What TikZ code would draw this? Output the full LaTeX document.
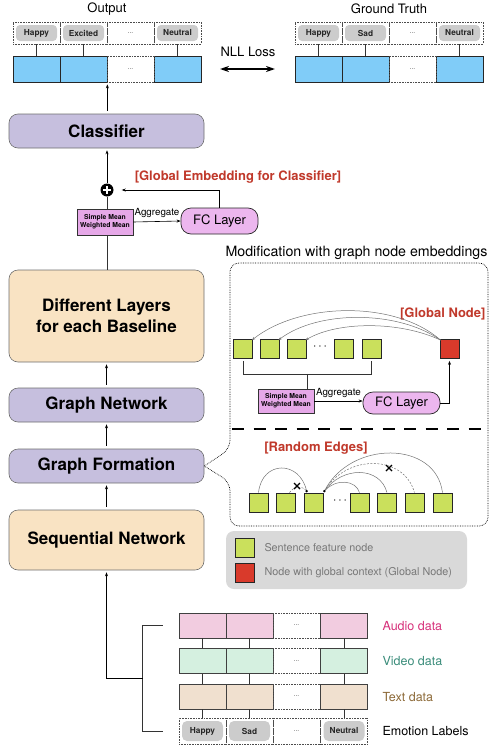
\documentclass[tikz,border=0pt]{standalone}
\usepackage{fontspec}
\setmainfont{TeX Gyre Heros}
\usetikzlibrary{arrows.meta,calc}
\definecolor{cblue}{RGB}{128,204,248}
\definecolor{clav}{RGB}{198,191,222}
\definecolor{corange}{RGB}{249,227,195}
\definecolor{cpink}{RGB}{236,182,238}
\definecolor{cpinkd}{RGB}{230,168,232}
\definecolor{cgreen}{RGB}{202,224,92}
\definecolor{cred}{RGB}{217,58,43}
\definecolor{credtxt}{RGB}{192,57,43}
\definecolor{clabgray}{RGB}{204,204,204}
\definecolor{clegend}{RGB}{217,217,217}
\definecolor{clegtxt}{RGB}{120,120,120}
\definecolor{caudio}{RGB}{242,204,224}
\definecolor{cvideo}{RGB}{213,240,224}
\definecolor{ctext}{RGB}{240,224,207}
\definecolor{caudiot}{RGB}{214,48,122}
\definecolor{cvideot}{RGB}{58,140,122}
\definecolor{ctextt}{RGB}{140,105,55}
\definecolor{cborder}{RGB}{110,110,110}
\tikzset{
  f13/.style={font=\fontsize{13}{15}\selectfont},
  f12/.style={font=\fontsize{12.5}{14}\selectfont},
  arr/.style={-{Stealth[length=4pt,width=3pt]}, line width=0.6pt},
  conn/.style={line width=0.6pt, draw=black!80},
  dcell/.style={draw=black!70, densely dotted, line width=0.6, minimum width=47, minimum height=22, inner sep=0, font=\fontsize{7}{8}\selectfont, text=black!60},
  lab/.style={fill=clabgray, rounded corners=4, minimum width=41, minimum height=16, inner sep=0, font=\fontsize{8.3}{9}\selectfont\bfseries, text=black!85},
  bcell/.style={draw=black!85, line width=0.7, fill=cblue, minimum width=47, minimum height=26, inner sep=0},
  dcellb/.style={dcell, minimum height=26},
  bigbox/.style={draw=cborder, line width=0.6, rounded corners=9, minimum width=195, inner sep=0, align=center, font=\fontsize{17}{21}\selectfont\bfseries},
  lavbox/.style={bigbox, fill=clav, minimum height=34},
  orbox/.style={bigbox, fill=corange},
  fcbox/.style={draw=black!85, line width=0.7, fill=cpink, rounded corners=10, minimum width=77, minimum height=26, inner sep=0, font=\fontsize{13}{15}\selectfont},
  smbox/.style={draw=black!80, line width=0.7, fill=cpinkd, minimum width=56, minimum height=26, inner sep=0, align=center, font=\fontsize{6.8}{8}\selectfont\bfseries},
  redlab/.style={text=credtxt, font=\fontsize{13}{15}\selectfont\bfseries},
  gsq/.style={draw=black!85, line width=0.7, fill=cgreen, minimum size=19, inner sep=0},
  rsq/.style={draw=black!85, line width=0.7, fill=cred, minimum size=19, inner sep=0},
  edge/.style={draw=black!55, line width=0.5},
  dedge/.style={edge, dashed, dash pattern=on 2pt off 1.5pt},
  xmark/.style={line width=1.3pt, black},
  acell/.style={draw=black!75, line width=0.7, minimum width=47, minimum height=25, inner sep=0},
  aggr/.style={font=\fontsize{9.8}{11}\selectfont},
}
\begin{document}
\begin{tikzpicture}[x=1pt,y=-1pt]
\useasboundingbox (0,0) rectangle (489,747);

% ---------- Output ----------
\node[f13] (outlab) at (107,9) {Output};
\foreach \i/\x/\t in {1/36.5/Happy,2/83.5/Excited,4/177.5/Neutral}{
  \node[dcell] (oc\i) at (\x,33) {};
  \node[lab] (ol\i) at (oc\i) {\t};
  \node[bcell] (ob\i) at (\x,69) {};
  \draw[conn] (oc\i.south) -- (ob\i.north);
}
\node[dcell] (oc3) at (130.5,33) {...};
\node[dcellb] (ob3) at (130.5,69) {...};

% ---------- Ground truth ----------
\node[f13] (gtlab) at (389,9) {Ground Truth};
\foreach \i/\x/\t in {1/318.5/Happy,2/365.5/Sad,4/459.5/Neutral}{
  \node[dcell] (gc\i) at (\x,33) {};
  \node[lab] (gl\i) at (gc\i) {\t};
  \node[bcell] (gb\i) at (\x,69) {};
  \draw[conn] (gc\i.south) -- (gb\i.north);
}
\node[dcell] (gc3) at (412.5,33) {...};
\node[dcellb] (gb3) at (412.5,69) {...};

% NLL loss
\node[f13] (nll) at (248,52) {NLL Loss};
\coordinate (nllL) at (220,69);
\coordinate (nllR) at (275,69);
\draw[{Stealth[length=9pt,width=6pt]}-{Stealth[length=9pt,width=6pt]}, line width=1.6pt] (nllL) -- (nllR);

% ---------- Left column ----------
\node[lavbox] (cls) at (106.5,131) {Classifier};
\draw[arr, shorten >=2pt] (cls.north -| ob2.south east) ++(0,-3) -- (ob2.south east);

\node[circle, fill=black, minimum size=13, inner sep=0] (plus) at (107,190) {};
\draw[white, line width=1.6pt] ($(plus.center)+(-3.8,0)$) -- ($(plus.center)+(3.8,0)$);
\draw[white, line width=1.6pt] ($(plus.center)+(0,-3.8)$) -- ($(plus.center)+(0,3.8)$);
\draw[arr, shorten >=2pt] (plus.north) -- (plus.north |- cls.south);

\node[redlab] (gelab) at (238,177) {[Global Embedding for Classifier]};

\node[smbox] (sm1) at (105,222) {Simple Mean\\Weighted Mean};
\node[fcbox] (fc1) at (219.5,221) {FC Layer};
\draw[arr] (sm1.east) -- (fc1.west) node[midway, above=0pt, aggr] {Aggregate};
\draw[arr, shorten >=8pt] (fc1.north) |- (plus.east);

\node[orbox, minimum height=92] (dl) at (106.5,316) {Different Layers\\for each Baseline};
\node[lavbox] (gn) at (106.5,405) {Graph Network};
\node[lavbox] (gf) at (106.5,466) {Graph Formation};
\node[orbox, minimum height=60] (sq) at (106.5,540) {Sequential Network};

\draw[conn] (plus.south) -- (plus.south |- sm1.north);
\draw[conn] (plus.south |- sm1.south) -- (plus.south |- dl.north);
\draw[arr, shorten <=3pt, shorten >=2pt] (gn.north) -- (dl.south);
\draw[arr, shorten <=3pt, shorten >=2pt] (gf.north) -- (gn.north |- gn.south);
\draw[arr, shorten <=3pt, shorten >=2pt] (sq.north) -- (gf.south);

% ---------- Data rows ----------
\foreach \r/\y/\c in {a/625.5/caudio, v/661/cvideo, t/696.5/ctext}{
  \node[acell, fill=\c] (\r1) at (202.5,\y) {};
  \node[acell, fill=\c] (\r2) at (249.5,\y) {};
  \node[dcell, minimum height=25] (\r3) at (296.5,\y) {...};
  \node[acell, fill=\c] (\r4) at (344,\y) {};
}
\node[dcell, minimum height=26] (e1) at (202.5,731) {};
\node[dcell, minimum height=26] (e2) at (249.5,731) {};
\node[dcell, minimum height=26] (e3) at (296.5,731) {...};
\node[dcell, minimum height=26] (e4) at (344,731) {};
\node[lab, minimum height=20, rounded corners=5] (el1) at (e1) {Happy};
\node[lab, minimum height=20, rounded corners=5] (el2) at (e2) {Sad};
\node[lab, minimum height=20, rounded corners=5] (el4) at (e4) {Neutral};
\foreach \i in {1,2,4}{
  \draw[conn] (a\i.south) -- (v\i.north);
  \draw[conn] (v\i.south) -- (t\i.north);
  \draw[conn] (t\i.south) -- (e\i.north);
}
\node[f12, anchor=west, text=caudiot] (alab) at (379,626) {Audio data};
\node[f12, anchor=west, text=cvideot] (vlab) at (379,661) {Video data};
\node[f12, anchor=west, text=ctextt] (tlab) at (379,697) {Text data};
\node[f12, anchor=west] (elab) at (379,731) {Emotion Labels};

% bracket
\draw[conn] ($(a1.west)+(-16,0)$) -- ++(-20,0) |- ($(e1.west)+(-16,0)$);
\coordinate (brkmid) at ($(a1.west)+(-36,52.5)$);
\draw[arr, shorten >=2pt] (brkmid) -| (sq.south);

% ---------- Right panel ----------
\node[anchor=west, font=\fontsize{14.2}{16}\selectfont] (modt) at (222,253) {Modification with graph node embeddings};
\draw[densely dotted, line width=0.7, rounded corners=9] (gf.east) -- (230,449) -- (230,263) -- (488,263) -- (488,526) -- (230,526) -- (230,482) [sharp corners] -- (gf.east);

% top graph
\node[gsq] (g1) at (243,349) {};
\node[gsq] (g2) at (269.5,349) {};
\node[gsq] (g3) at (296.5,349) {};
\node[font=\fontsize{12}{14}\selectfont\bfseries] (gdots) at (320,347) {$\cdots$};
\node[gsq] (g4) at (343.5,349) {};
\node[gsq] (g5) at (371.5,349) {};
\node[rsq] (rd) at (449.5,349) {};
\node[redlab, anchor=east] (gnlab) at (489,314) {[Global Node]};

\draw[edge, -{Stealth[length=3.5pt,width=2.6pt]}] ($(rd.north west)+(1,1)$) .. controls (395,300) and (300,302) .. ($(g1.north east)+(-1,1)$);
\draw[edge, -{Stealth[length=3.5pt,width=2.6pt]}] ($(rd.north west)+(1,1)$) .. controls (398,310) and (318,310) .. ($(g2.north east)+(-1,1)$);
\draw[edge, -{Stealth[length=3.5pt,width=2.6pt]}] ($(rd.north west)+(1,1)$) .. controls (400,321) and (338,321) .. ($(g3.north east)+(-1,1)$);

\draw[conn] ($(g1.south)+(0,2)$) |- ($(g5.south)+(0,15)$) -- ($(g5.south)+(0,2)$);
\coordinate (brc) at ($(g1.south)!0.5!(g5.south)+(0,15)$);
\node[smbox, minimum height=24] (sm2) at (286,401) {Simple Mean\\Weighted Mean};
\draw[conn] (brc) -- (brc |- sm2.north);
\node[fcbox, minimum height=22] (fc2) at (401.5,403) {FC Layer};
\draw[arr] (sm2.east) -- (sm2.east -| fc2.west) node[midway, above=0pt, aggr] {Aggregate};
\draw[arr, shorten >=2pt] (fc2.east) -| (rd.south);

% separator
\coordinate (sepL) at (232,429);
\coordinate (sepR) at (484,429);
\draw[line width=1.8pt, dash pattern=on 12pt off 9.5pt] (sepL) -- (sepR);

% random edges
\node[redlab] (relab) at (316,448) {[Random Edges]};
\node[gsq] (b1) at (258.5,502.5) {};
\node[gsq] (b2) at (285.5,502.5) {};
\node[gsq] (b3) at (313.5,502.5) {};
\node[font=\fontsize{12}{14}\selectfont\bfseries] (bdots) at (340,501) {$\cdots$};
\node[gsq] (b4) at (359.5,502.5) {};
\node[gsq] (b5) at (387,502.5) {};
\node[gsq] (b6) at (414.5,502.5) {};
\node[gsq] (b7) at (442.5,502.5) {};

\coordinate (b3L) at ($(b3.north west)+(3,-1.5)$);
\coordinate (b3R) at ($(b3.north east)+(1,-1.5)$);
\draw[edge] (b1.north) .. controls (262,460) and (300,460) .. (b3L);
\draw[dedge] ($(b2.north)+(4,0)$) .. controls (294,486) and (302,485) .. (b3L);
\draw[edge] (b3R) .. controls (336,478) and (356,480) .. (b4.north);
\draw[edge] (b3R) .. controls (342,466) and (380,466) .. (b5.north);
\draw[dedge] (b3R) .. controls (346,454) and (404,454) .. (b6.north);
\draw[edge] (b3R) .. controls (350,440) and (436,440) .. (b7.north);
\fill (b3L) circle (1.3);
\fill (b3R) circle (1.3);
\coordinate (x1) at (297,486);
\coordinate (x2) at (389,468);
\draw[xmark] ($(x1)+(-3,-3)$) -- ($(x1)+(3,3)$);
\draw[xmark] ($(x1)+(-3,3)$) -- ($(x1)+(3,-3)$);
\draw[xmark] ($(x2)+(-3,-3)$) -- ($(x2)+(3,3)$);
\draw[xmark] ($(x2)+(-3,3)$) -- ($(x2)+(3,-3)$);

% legend
\node[fill=clegend, rounded corners=8, minimum width=241, minimum height=58, inner sep=0] (leg) at (346.5,560) {};
\node[gsq] (lg) at (244.5,548) {};
\node[rsq] (lr) at (244.5,573) {};
\node[anchor=west, text=clegtxt, font=\fontsize{10.8}{12}\selectfont] (lgt) at (261,548) {Sentence feature node};
\node[anchor=west, text=clegtxt, font=\fontsize{10.8}{12}\selectfont] (lrt) at (261,573) {Node with global context (Global Node)};

\end{tikzpicture}
\end{document}
